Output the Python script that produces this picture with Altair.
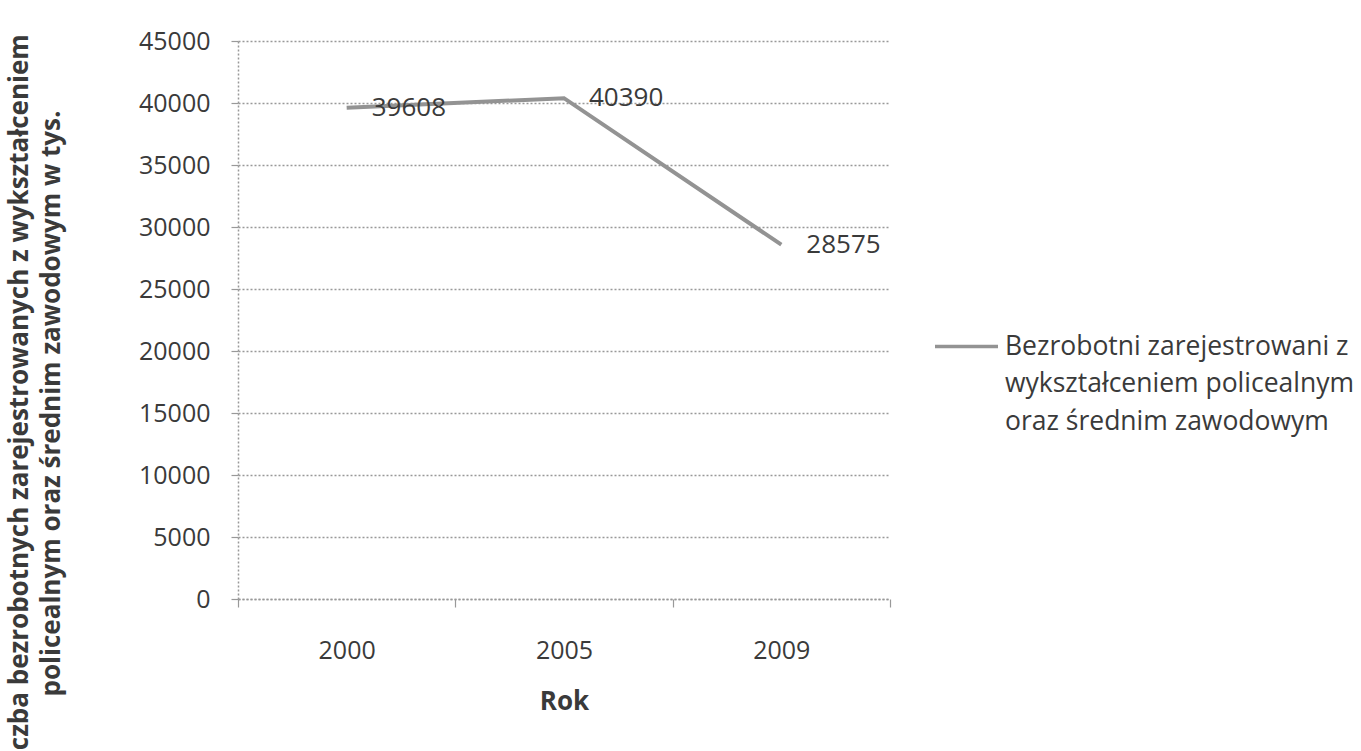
import json

import altair as alt
import pandas as pd

# Registered unemployed with post-secondary / vocational secondary education
YEARS = ["2000", "2005", "2009"]
VALUES = [39608, 40390, 28575]
SERIES = "Bezrobotni zarejestrowani z wykształceniem policealnym oraz średnim zawodowym"
LEGEND_LINES = [
    "Bezrobotni zarejestrowani z",
    "wykształceniem policealnym",
    "oraz średnim zawodowym",
]
Y_TITLE = [
    "Liczba bezrobotnych zarejestrowanych z wykształceniem",
    "policealnym oraz średnim zawodowym w tys.",
]
X_TITLE = "Rok"
Y_TICKS = [0, 5000, 10000, 15000, 20000, 25000, 30000, 35000, 40000, 45000]

FONT = "Open Sans"
TEXT_COLOR = "#3a3a3a"
LINE_COLOR = "#939393"
GRID_COLOR = "#999999"

df = pd.DataFrame({"rok": YEARS, "liczba": VALUES, "seria": [SERIES] * len(YEARS)})

x_enc = alt.X(
    "rok:O",
    sort=YEARS,
    bandPosition=0.5,
    scale=alt.Scale(type="band", paddingInner=0, paddingOuter=0),
    axis=alt.Axis(
        title=X_TITLE,
        labelAngle=0,
        tickBand="extent",
        tickSize=8,
        tickColor=GRID_COLOR,
        tickWidth=1.2,
        domainColor=GRID_COLOR,
        domainWidth=1.5,
        domainDash=[2, 2],
        labelPadding=31,
        labelFontSize=25,
        titleY=89,
        titleX=326,
        titleBaseline="top",
        titleFontSize=26,
    ),
)

y_enc = alt.Y(
    "liczba:Q",
    scale=alt.Scale(domain=[0, 45000], nice=False),
    axis=alt.Axis(
        title=Y_TITLE,
        values=Y_TICKS,
        format="d",
        tickSize=7,
        tickColor=GRID_COLOR,
        tickWidth=1.2,
        domainColor=GRID_COLOR,
        domainWidth=1.5,
        domainDash=[2, 2],
        labelPadding=21,
        labelFontSize=25,
        grid=True,
        gridColor=GRID_COLOR,
        gridWidth=1.3,
        gridDash=[2, 2],
        titleFontSize=26,
        titleLineHeight=32,
        titleX=-206,
        titleY=362,
    ),
)

base = alt.Chart(df)

line = base.mark_line(strokeWidth=4).encode(
    x=x_enc,
    y=y_enc,
    color=alt.Color(
        "seria:N",
        scale=alt.Scale(range=[LINE_COLOR]),
        legend=alt.Legend(
            title=None,
            orient="none",
            legendX=695,
            legendY=272,
            symbolType="stroke",
            symbolSize=3969,
            symbolStrokeWidth=3.5,
            symbolStrokeColor=LINE_COLOR,
            labelExpr=json.dumps(LEGEND_LINES, ensure_ascii=False),
            labelFont=FONT,
            labelFontSize=26.5,
            labelColor=TEXT_COLOR,
            labelOffset=5,
            labelLimit=600,
            labelBaseline="middle",
        ),
    ),
)

labels = base.mark_text(
    align="left",
    baseline="middle",
    dx=25,
    font=FONT,
    fontSize=26,
    color=TEXT_COLOR,
).encode(
    x=x_enc,
    y=y_enc,
    text=alt.Text("liczba:Q", format="d"),
)

chart = (
    alt.layer(line, labels)
    .properties(
        width=652,
        height=558,
        autosize="none",
        padding={"left": 238, "top": 41, "right": 471, "bottom": 152},
        background="#ffffff",
    )
    .configure(style={"guide-label": {"lineHeight": 37.5}})
    .configure_view(stroke=None)
    .configure_axis(
        labelFont=FONT,
        labelColor=TEXT_COLOR,
        titleFont=FONT,
        titleColor=TEXT_COLOR,
        titleFontWeight="bold",
    )
)

chart.save("out.html", embed_options={"renderer": "svg", "actions": False})
